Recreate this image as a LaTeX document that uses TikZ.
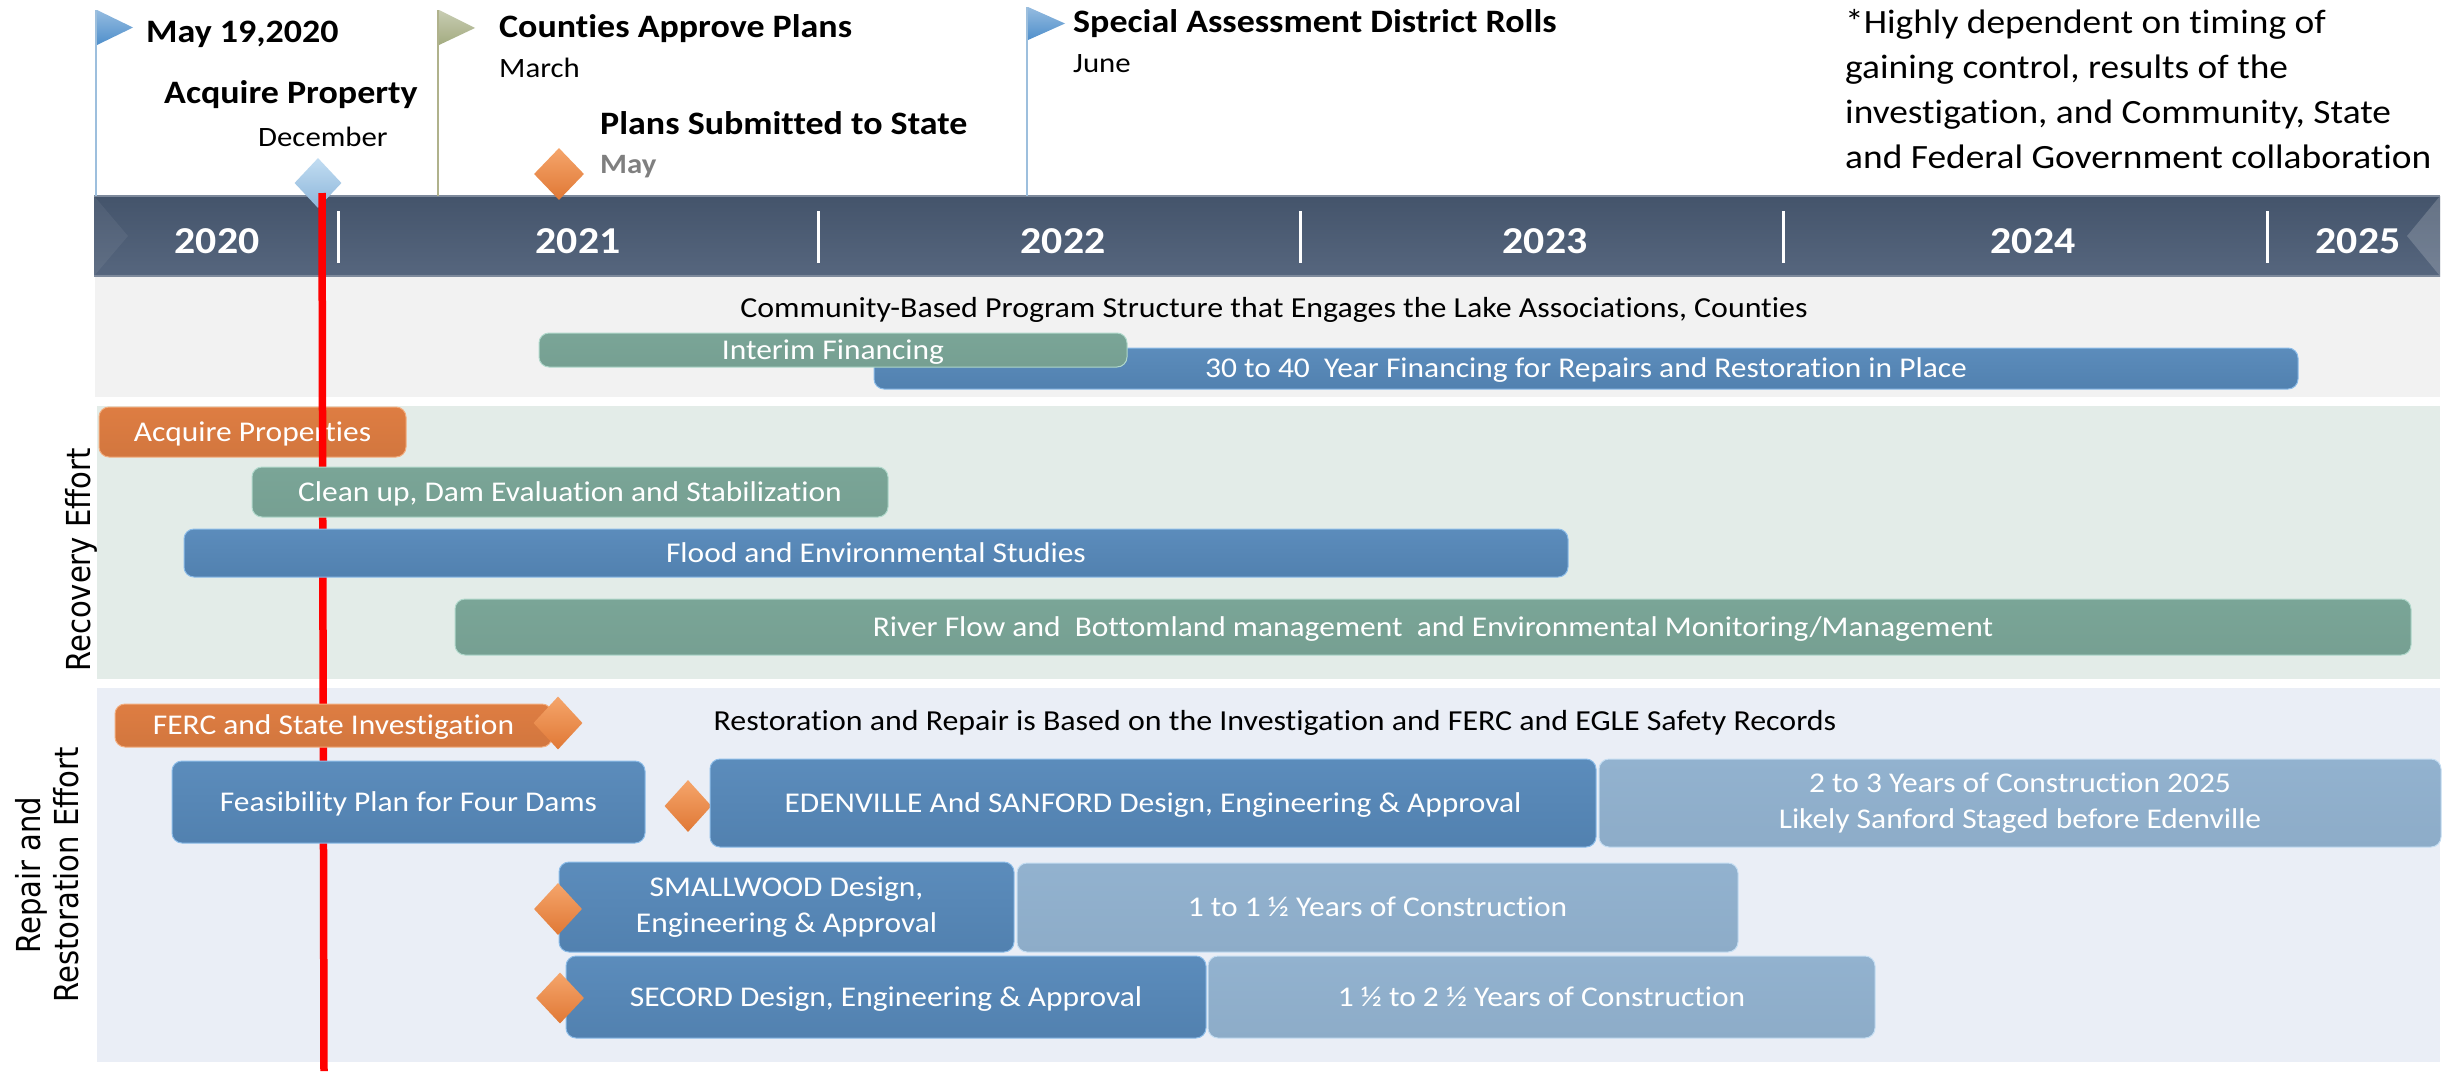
\documentclass[tikz,border=0pt]{standalone}
\usepackage{fontspec}
\setmainfont{Carlito}[FakeStretch=1.1, Ligatures=NoCommon]
\newfontfamily\sidefont{DejaVu Sans}[FakeStretch=0.88]
\usetikzlibrary{shapes.geometric}

\definecolor{bandDark}{HTML}{44546B}
\definecolor{bandLight}{HTML}{56667E}
\definecolor{bandEdge}{HTML}{7E8A9C}
\definecolor{secOne}{HTML}{F2F2F2}
\definecolor{secTwo}{HTML}{E3ECE8}
\definecolor{secThree}{HTML}{EAEEF6}
\definecolor{orangeTop}{HTML}{F2AE80}
\definecolor{orangeMain}{HTML}{DE7D42}
\definecolor{tealTop}{HTML}{B0D8CB}
\definecolor{tealMain}{HTML}{7AA597}
\definecolor{blueTop}{HTML}{8CBCE8}
\definecolor{blueMain}{HTML}{5386B8}
\definecolor{paleTop}{HTML}{C4DDF2}
\definecolor{paleMain}{HTML}{92B2CF}
\definecolor{diaOrange}{HTML}{F5A56B}
\definecolor{diaOrangeDark}{HTML}{E07835}
\definecolor{diaBlue}{HTML}{C2DDF2}
\definecolor{diaBlueDark}{HTML}{8DB6DA}
\definecolor{flagBlue}{HTML}{4F8FCB}
\definecolor{flagOlive}{HTML}{A3AB80}
\definecolor{poleBlue}{HTML}{9DBFDD}
\definecolor{poleOlive}{HTML}{B0B28C}
\definecolor{monthGray}{HTML}{7F7F7F}

\pgfdeclareverticalshading{orangeshade}{100bp}{color(0bp)=(orangeMain!92!black); color(75bp)=(orangeMain); color(93bp)=(orangeTop); color(100bp)=(orangeTop)}
\pgfdeclareverticalshading{tealshade}{100bp}{color(0bp)=(tealMain!95!black); color(75bp)=(tealMain); color(93bp)=(tealTop); color(100bp)=(tealTop)}
\pgfdeclareverticalshading{blueshade}{100bp}{color(0bp)=(blueMain!92!black); color(75bp)=(blueMain!95!white); color(93bp)=(blueTop); color(100bp)=(blueTop)}
\pgfdeclareverticalshading{paleshade}{100bp}{color(0bp)=(paleMain!95!black); color(75bp)=(paleMain); color(93bp)=(paleTop); color(100bp)=(paleTop)}

\newcommand\bartext{\fontsize{28.6}{36}\selectfont}
\newcommand\captfont{\fontsize{29}{36}\selectfont}
\newcommand\milefont{\fontsize{32.7}{38}\selectfont\bfseries}
\newcommand\monthfont{\fontsize{28}{34}\selectfont}
\newcommand\notefont{\fontsize{34}{45}\selectfont}
\newcommand\yearfont{\fontsize{38}{44}\selectfont\bfseries}
\newcommand\sectfont{\sidefont\fontsize{33}{38}\selectfont}

\tikzset{
  ganttbar/.style={rounded corners=10pt, inner sep=0pt, text=white, font=\bartext, align=center, shade, line width=1pt},
  oneline/.style={text height=18.4pt, text depth=0pt},
  orangebar/.style={ganttbar, shading=orangeshade, draw=orangeTop},
  tealbar/.style={ganttbar, shading=tealshade, draw=tealTop},
  bluebar/.style={ganttbar, shading=blueshade, draw=blueTop},
  palebar/.style={ganttbar, shading=paleshade, draw=paleTop},
  milestone/.style={diamond, inner sep=0pt, top color=diaOrange, bottom color=diaOrangeDark},
  bluestone/.style={diamond, inner sep=0pt, top color=diaBlue, bottom color=diaBlueDark},
  milelabel/.style={anchor=base west, inner sep=0pt, font=\milefont},
  monthlabel/.style={anchor=base west, inner sep=0pt, font=\monthfont},
  notetext/.style={anchor=base west, inner sep=0pt, font=\notefont},
  yearlabel/.style={anchor=base, inner sep=0pt, text=white, font=\yearfont},
  captext/.style={anchor=base, inner sep=0pt, font=\captfont},
  sectlabel/.style={rotate=90, inner sep=0pt, font=\sectfont, align=center},
  redline/.style={red, line width=7.5pt}
}

\begin{document}
\begin{tikzpicture}[x=1pt, y=-1pt]
    \useasboundingbox[fill=white] (0,0) rectangle (2456,1071);

    % Background bands of the chart
    \fill[secOne] (95,276) rectangle (2440,397);
    \fill[secTwo] (97,406) rectangle (2440,679);
    \fill[secThree] (97,688) rectangle (2440,1062);

    % Timeline with the years
    \shade[top color=bandDark, bottom color=bandLight] (94,196) rectangle (2440,276);
    \fill[white, opacity=0.06] (94,196) -- (128,236) -- (94,276) -- cycle;
    \fill[white, opacity=0.18] (2440,196) -- (2407,236) -- (2440,276) -- cycle;
    \draw[bandEdge, line width=1.5pt] (94,196) -- (2440,196);
    \draw[bandEdge, line width=1.5pt] (94,276) -- (2440,276);
    \foreach \x in {338, 818, 1300, 1783, 2267}
    {
        \draw[white, line width=3pt] (\x,211) -- (\x,263);
    }
    \foreach \yr/\x in {2020/217, 2021/578, 2022/1063, 2023/1545, 2024/2033, 2025/2358}
    {
        \node[yearlabel] (y\yr) at (\x,253) {\yr};
    }

    % Milestones above the timeline
    \draw[poleBlue, line width=2pt] (96,10) -- (96,196);
    \shade[top color=flagBlue!60!white, bottom color=flagBlue] (97,10) -- (133,27.5) -- (97,45) -- cycle;
    \draw[poleOlive, line width=2pt] (438,10) -- (438,196);
    \shade[top color=flagOlive!60!white, bottom color=flagOlive] (439,10) -- (475,28) -- (439,45) -- cycle;
    \draw[poleBlue, line width=2pt] (1027,7) -- (1027,196);
    \shade[top color=flagBlue!60!white, bottom color=flagBlue] (1028,7) -- (1065,23.5) -- (1028,40) -- cycle;

    \node[milelabel] (flood) at (146,42) {May 19,2020};
    \node[milelabel] (acqprop) at (164,103) {Acquire Property};
    \node[monthlabel] (dec) at (258,146) {December};
    \node[milelabel] (approve) at (499,37) {Counties Approve Plans};
    \node[monthlabel] (march) at (499,77) {March};
    \node[milelabel] (submit) at (600,134) {Plans Submitted to State};
    \node[monthlabel, font=\monthfont\bfseries, text=monthGray] (may) at (600,173) {May};
    \node[milelabel] (rolls) at (1073,32) {Special Assessment District Rolls};
    \node[monthlabel] (june) at (1073,72) {June};

    \foreach \line [count=\n from 0] in {{*Highly dependent on timing of}, {gaining control, results of the}, {investigation, and Community, State}, {and Federal Government collaboration}}
    {
        \node[notetext] (note\n) at (1845,{33+45*\n}) {\line};
    }

    \node[bluestone, minimum width=47pt, minimum height=50pt] (dAcq) at (318,183) {};
    \node[milestone, minimum width=50pt, minimum height=52pt] (dSub) at (559,174) {};

    % Community-based program structure
    \node[captext] (community) at (1274,317) {Community-Based Program Structure that Engages the Lake Associations, Counties};
    \node[bluebar, oneline, minimum width=1424pt, minimum height=41pt] (longfin) at (1586,368.5) {30 to 40\ \ Year Financing for Repairs and Restoration in Place};
    \node[tealbar, oneline, minimum width=588pt, minimum height=34pt] (interim) at (833,350) {Interim Financing};

    % Recovery effort
    \node[sectlabel] (recovery) at (81,560) {Recovery Effort};
    \node[orangebar, oneline, minimum width=307pt, minimum height=50pt] (acquire) at (252.5,432) {Acquire Properties};

    % Today
    \draw[redline] (322,193) -- (324,1071);

    \node[tealbar, oneline, minimum width=636pt, minimum height=50pt] (cleanup) at (570,492) {Clean up, Dam Evaluation and Stabilization};
    \node[bluebar, oneline, minimum width=1384pt, minimum height=48pt] (studies) at (876,553) {Flood and Environmental Studies};
    \node[tealbar, oneline, minimum width=1956pt, minimum height=56pt] (river) at (1433,627) {River Flow and\ \ Bottomland management\ \ and Environmental Monitoring/Management};

    % Repair and restoration effort
    \node[sectlabel] (repair) at (47,875) {Repair and\\Restoration Effort};
    \node[orangebar, oneline, minimum width=437pt, minimum height=43pt] (ferc) at (333.5,725.5) {FERC and State Investigation};
    \node[milestone, minimum width=49pt, minimum height=53pt] (dFerc) at (558,723) {};
    \node[captext] (basis) at (1275,730) {Restoration and Repair is Based on the Investigation and FERC and EGLE Safety Records};

    \node[bluebar, oneline, minimum width=473pt, minimum height=82pt] (feasible) at (408.5,802) {Feasibility Plan for Four Dams};
    \node[milestone, minimum width=47pt, minimum height=52pt] (dFeas) at (688,806) {};
    \node[bluebar, oneline, minimum width=886pt, minimum height=88pt] (eden) at (1153,803) {EDENVILLE And SANFORD Design, Engineering \& Approval};
    \node[palebar, minimum width=842pt, minimum height=88pt] (edenbuild) at (2020,803) {2 to 3 Years of Construction 2025\\Likely Sanford Staged before Edenville};

    \node[bluebar, minimum width=455pt, minimum height=90pt] (small) at (786.5,907) {SMALLWOOD Design,\\Engineering \& Approval};
    \node[palebar, oneline, minimum width=721pt, minimum height=89pt] (smallbuild) at (1377.5,907.5) {1 to 1 ½ Years of Construction};
    \node[milestone, minimum width=48pt, minimum height=52pt] (dSmall) at (558,909) {};

    \node[bluebar, oneline, minimum width=640pt, minimum height=82pt] (secord) at (886,997) {SECORD Design, Engineering \& Approval};
    \node[palebar, oneline, minimum width=667pt, minimum height=82pt] (secordbuild) at (1541.5,997) {1 ½ to 2 ½ Years of Construction};
    \node[milestone, minimum width=48pt, minimum height=51pt] (dSecord) at (560,998) {};
\end{tikzpicture}
\end{document}
